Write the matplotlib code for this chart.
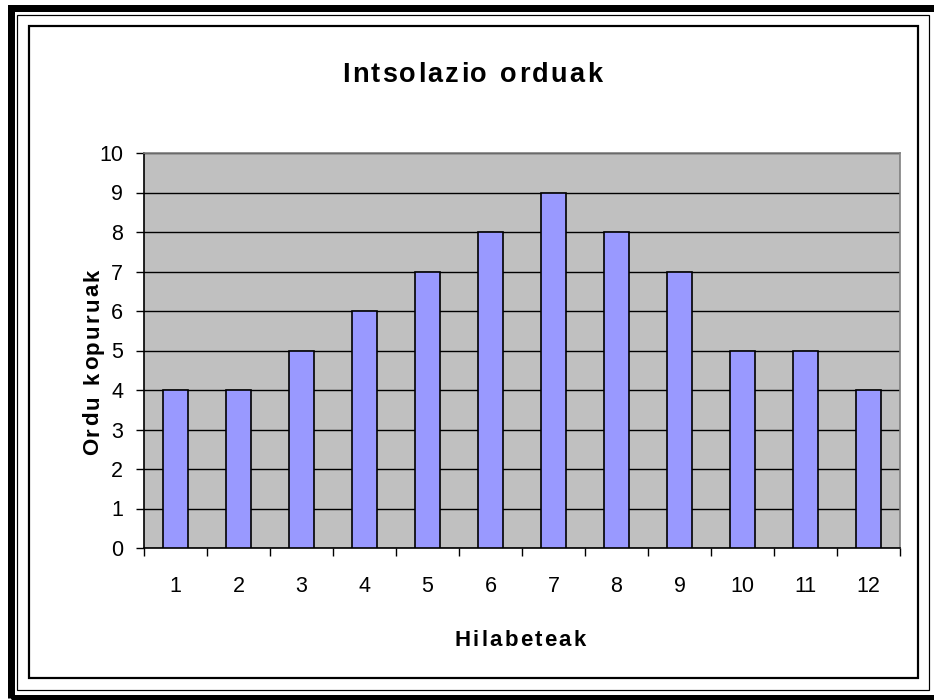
import numpy as np
import matplotlib.pyplot as plt
from matplotlib.patches import Rectangle

# data
months = ["1", "2", "3", "4", "5", "6", "7", "8", "9", "10", "11", "12"]
hours = [4, 4, 5, 6, 7, 8, 9, 8, 7, 5, 5, 4]
yticks = [0, 1, 2, 3, 4, 5, 6, 7, 8, 9, 10]

plt.rcParams['font.family'] = ['Liberation Sans', 'DejaVu Sans']

W, H = 934, 700
fig = plt.figure(figsize=(W / 100, H / 100), dpi=100)

def px(x0, y0, x1, y1):
    # pixel box -> figure fraction (left, bottom, width, height)
    return [x0 / W, 1 - y1 / H, (x1 - x0) / W, (y1 - y0) / H]

# frames around the chart
def frame(x0, y0, x1, y1, lw_px):
    l, b, w, h = px(x0, y0, x1, y1)
    fig.patches.append(Rectangle((l, b), w, h, transform=fig.transFigure,
                                 fill=False, edgecolor="black",
                                 linewidth=lw_px * 0.72))

frame(10.5, 7.5, 940, 697.5, 7)
frame(16.5, 14.5, 929, 690, 1.2)
frame(29, 26, 918, 678, 2.2)

def spaced(xc, yc, s, size, spacing, rotation=0):
    # draw bold text with extra letter spacing (in px), centred on (xc, yc)
    r = fig.canvas.get_renderer()
    widths = []
    for ch in s:
        t = fig.text(0, 0, ch if ch != " " else "n", fontsize=size, fontweight="bold")
        w = t.get_window_extent(r).width
        if ch == " ":
            w *= 0.55
        widths.append(w)
        t.remove()
    total = sum(widths) + spacing * (len(s) - 1)
    pos = -total / 2
    for ch, w in zip(s, widths):
        c = pos + w / 2
        if rotation == 0:
            fig.text((xc + c) / W, 1 - yc / H, ch, ha="center", va="center_baseline",
                     fontsize=size, fontweight="bold")
        else:
            fig.text(xc / W, 1 - (yc - c) / H, ch, ha="center", va="center",
                     fontsize=size, fontweight="bold", rotation=90,
                     rotation_mode="anchor")
        pos += w + spacing

ax = fig.add_axes(px(144, 153, 900, 548))
x = np.arange(len(months))
ax.bar(x, hours, width=0.4, color="#9999FF", edgecolor="black",
       linewidth=1.2, zorder=3)

ax.set_facecolor("#C0C0C0")
ax.set_xlim(-0.5, len(months) - 0.5)
ax.set_ylim(0, 10)
ax.set_yticks(yticks)
ax.yaxis.grid(True, color="black", linewidth=1, zorder=1)
ax.set_axisbelow(True)

ax.set_xticks(x)
ax.set_xticklabels(months, fontsize=15.5)
ax.tick_params(axis="x", length=0, pad=20)
ax.set_xticks(np.arange(len(months) + 1) - 0.5, minor=True)
ax.tick_params(axis="x", which="minor", length=6, width=1, direction="out")
ax.tick_params(axis="y", length=6, width=1, direction="out", labelsize=15.5, pad=9)

for s in ["top", "right"]:
    ax.spines[s].set_color("#808080")
ax.spines["left"].set_color("black")
ax.spines["bottom"].set_color("black")
for s in ax.spines.values():
    s.set_linewidth(1.2)

spaced(472, 72, "Intsolazio orduak", 19.5, 2.2)
spaced(520, 638, "Hilabeteak", 16, 2.2)
spaced(93, 362, "Ordu kopuruak", 16, 2.2, rotation=90)

fig.savefig("out.png", dpi=100)
